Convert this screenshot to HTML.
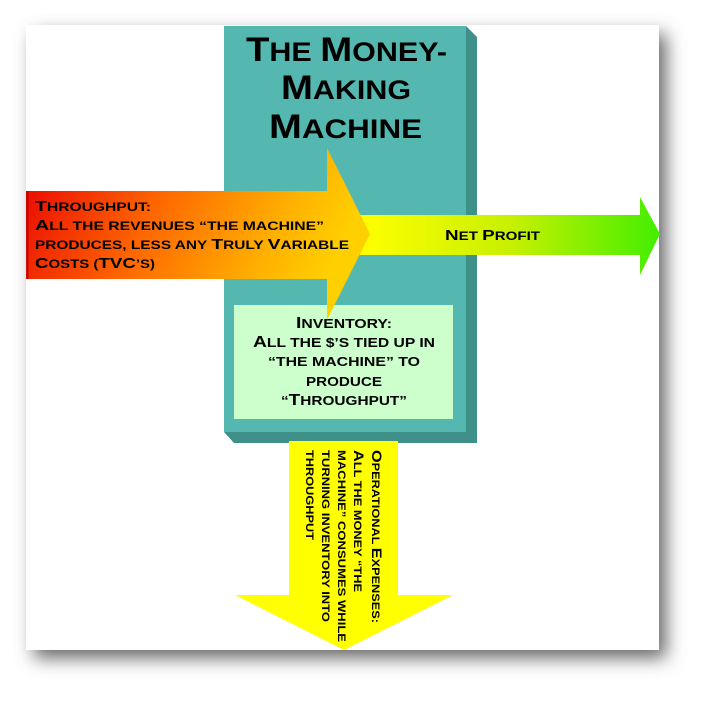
<!DOCTYPE html>
<html><head><meta charset="utf-8"><style>
html,body{margin:0;padding:0;background:#fff;}
svg text{font-family:"Liberation Sans",sans-serif;font-weight:bold;fill:#000;}
</style></head><body>
<svg width="711" height="702" viewBox="0 0 711 702" xmlns="http://www.w3.org/2000/svg">
<defs>
<filter id="sh" x="-10%" y="-10%" width="130%" height="130%"><feGaussianBlur stdDeviation="9"/></filter>
<linearGradient id="red" x1="0" y1="0" x2="1" y2="0.25">
<stop offset="0" stop-color="#e80000"/><stop offset="0.45" stop-color="#ff6a00"/><stop offset="0.8" stop-color="#ffb000"/><stop offset="1" stop-color="#ffd000"/></linearGradient>
<linearGradient id="grn" x1="0" y1="0" x2="1" y2="0">
<stop offset="0" stop-color="#ffff00"/><stop offset="0.5" stop-color="#c8f000"/><stop offset="1" stop-color="#44ee00"/></linearGradient>
</defs>
<rect x="34" y="34" width="632" height="624" fill="#666" filter="url(#sh)"/>
<rect x="26" y="25" width="633" height="625" fill="#fff"/>
<!-- machine -->
<polygon points="466,26 477,37 477,443 234,443 224,432 466,432" fill="#3e9088"/>
<rect x="224" y="26" width="242" height="406" fill="#55b8b0"/>
<g font-size="27" lengthAdjust="spacingAndGlyphs">
<text x="246" y="61" textLength="201" lengthAdjust="spacingAndGlyphs"><tspan font-size="34">T</tspan>HE <tspan font-size="34">M</tspan>ONEY-</text>
<text x="281" y="99" textLength="130" lengthAdjust="spacingAndGlyphs"><tspan font-size="34">M</tspan>AKING</text>
<text x="269" y="138" textLength="153" lengthAdjust="spacingAndGlyphs"><tspan font-size="34">M</tspan>ACHINE</text>
</g>
<!-- inventory -->
<rect x="234" y="305" width="219" height="114" fill="#ccffcc"/>
<g font-size="13">
<text x="296" y="328" textLength="96" lengthAdjust="spacingAndGlyphs"><tspan font-size="16">I</tspan>NVENTORY:</text>
<text x="253" y="347" textLength="182" lengthAdjust="spacingAndGlyphs"><tspan font-size="16">A</tspan>LL THE $’S TIED UP IN</text>
<text x="268" y="366" textLength="152" lengthAdjust="spacingAndGlyphs">“THE MACHINE” TO</text>
<text x="306" y="386" textLength="76" lengthAdjust="spacingAndGlyphs">PRODUCE</text>
<text x="281" y="405" textLength="126" lengthAdjust="spacingAndGlyphs">“<tspan font-size="16">T</tspan>HROUGHPUT”</text>
</g>
<!-- green arrow -->
<polygon points="360,215 640,215 640,197 660,234 640,275 640,255 360,255" fill="url(#grn)"/>
<text x="445" y="240" font-size="12" textLength="95" lengthAdjust="spacingAndGlyphs"><tspan font-size="15">N</tspan>ET <tspan font-size="15">P</tspan>ROFIT</text>
<!-- red arrow -->
<polygon points="26,191 327,191 327,148 370,234 327,320 327,279 26,279" fill="url(#red)"/>
<line x1="27.5" y1="191" x2="27.5" y2="279" stroke="#c00000" stroke-width="2"/>
<g font-size="12">
<text x="35" y="211" textLength="116" lengthAdjust="spacingAndGlyphs"><tspan font-size="15">T</tspan>HROUGHPUT:</text>
<text x="35" y="230" textLength="289" lengthAdjust="spacingAndGlyphs"><tspan font-size="15">A</tspan>LL THE REVENUES “THE MACHINE”</text>
<text x="35" y="249" textLength="314" lengthAdjust="spacingAndGlyphs">PRODUCES, LESS ANY <tspan font-size="15">T</tspan>RULY <tspan font-size="15">V</tspan>ARIABLE</text>
<text x="35" y="268" textLength="120" lengthAdjust="spacingAndGlyphs"><tspan font-size="15">C</tspan>OSTS (<tspan font-size="15">TVC</tspan>’S)</text>
</g>
<!-- yellow arrow -->
<polygon points="289,441 398,441 398,595 453,595 344,650 235,595 289,595" fill="#ffff00"/>
<g font-size="11" transform="translate(344,450) rotate(90)">
<text x="0" y="-28" textLength="173" lengthAdjust="spacingAndGlyphs"><tspan font-size="14">O</tspan>PERATIONAL <tspan font-size="14">E</tspan>XPENSES:</text>
<text x="0" y="-10" textLength="142" lengthAdjust="spacingAndGlyphs"><tspan font-size="14">A</tspan>LL THE MONEY “THE</text>
<text x="0" y="6" textLength="192" lengthAdjust="spacingAndGlyphs">MACHINE” CONSUMES WHILE</text>
<text x="0" y="22" textLength="172" lengthAdjust="spacingAndGlyphs">TURNING INVENTORY INTO</text>
<text x="0" y="38" textLength="90" lengthAdjust="spacingAndGlyphs">THROUGHPUT</text>
</g>
</svg>
</body></html>
